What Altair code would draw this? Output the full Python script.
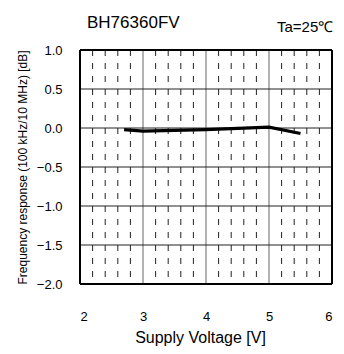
import altair as alt
import pandas as pd

# data
voltage = [2.7, 3.0, 4.0, 5.0, 5.5]
response = [-0.02, -0.04, -0.02, 0.01, -0.07]
x_ticks = [2, 3, 4, 5, 6]
y_ticks = [-2.0, -1.5, -1.0, -0.5, 0.0, 0.5, 1.0]
x_minor = [2.2, 2.4, 2.6, 2.8, 3.2, 3.4, 3.6, 3.8, 4.2, 4.4, 4.6, 4.8, 5.2, 5.4, 5.6, 5.8]
x_major_inner = [3, 4, 5]
y_major_inner = [-1.5, -1.0, -0.5, 0.0, 0.5]
x_edges = [2, 6]
y_edges = [-2.0, 1.0]
title_text = ["BH76360FV"]
temp_text = ["Ta=25℃"]

FONT = "Liberation Sans"

xs = alt.Scale(domain=[2, 6], nice=False)
ys = alt.Scale(domain=[-2.0, 1.0], nice=False)

x_axis = alt.Axis(
    values=x_ticks,
    title="Supply Voltage [V]",
    format="d",
    grid=False,
    domain=False,
    ticks=False,
    labelPadding=26,
    titleX=120,
    titleY=58,
    titleAlign="center",
    titleBaseline="alphabetic",
    labelFontSize=13,
    titleFontSize=16,
    labelFont=FONT,
    titleFont=FONT,
    labelColor="black",
    titleColor="black",
    titleFontWeight="normal",
    labelOverlap=False,
)
y_axis = alt.Axis(
    values=y_ticks,
    title="Frequency response (100 kHz/10 MHz) [dB]",
    format=".1f",
    grid=False,
    domain=False,
    ticks=False,
    labelPadding=18,
    titlePadding=7,
    labelFontSize=13,
    titleFontSize=12,
    labelFont=FONT,
    titleFont=FONT,
    labelColor="black",
    titleColor="black",
    titleFontWeight="normal",
    labelOverlap=False,
)

df = pd.DataFrame({"v": voltage, "r": response})
minor_df = pd.DataFrame({"v": x_minor})
vmaj_df = pd.DataFrame({"v": x_major_inner})
hmaj_df = pd.DataFrame({"r": y_major_inner})
vedge_df = pd.DataFrame({"v": x_edges})
hedge_df = pd.DataFrame({"r": y_edges})

X = alt.X("v:Q", scale=xs, axis=x_axis, title="Supply Voltage [V]")
Y = alt.Y("r:Q", scale=ys, axis=y_axis, title="Frequency response (100 kHz/10 MHz) [dB]")

minor = alt.Chart(minor_df).mark_rule(
    color="#222222", strokeWidth=1, strokeDash=[6, 7], strokeDashOffset=0
).encode(x=X)

vmaj = alt.Chart(vmaj_df).mark_rule(color="#7f7f7f", strokeWidth=1.2).encode(x=X)
hmaj = alt.Chart(hmaj_df).mark_rule(color="#222222", strokeWidth=1).encode(y=Y)

line = alt.Chart(df).mark_line(color="black", strokeWidth=3.2).encode(x=X, y=Y)

vedge = alt.Chart(vedge_df).mark_rule(color="black", strokeWidth=2).encode(x=X)
hedge = alt.Chart(hedge_df).mark_rule(color="black", strokeWidth=2).encode(y=Y)

title = alt.Chart(pd.DataFrame({"t": title_text})).mark_text(
    font=FONT, fontSize=17, align="left", baseline="alphabetic", color="black"
).encode(text="t:N", x=alt.value(7), y=alt.value(-22))

ta = alt.Chart(pd.DataFrame({"t": temp_text})).mark_text(
    font=FONT, fontSize=15, align="left", baseline="alphabetic", color="black"
).encode(text="t:N", x=alt.value(197), y=alt.value(-18))

chart = (
    alt.layer(minor, vmaj, hmaj, line, vedge, hedge, title, ta)
    .properties(
        width=252,
        height=234,
        padding={"left": 72, "top": 42, "right": 4, "bottom": 62},
        autosize=alt.AutoSizeParams(type="none"),
    )
    .configure_view(stroke=None)
    .configure(background="white")
)

chart.save("out.html", embed_options={"renderer": "svg", "actions": False})
